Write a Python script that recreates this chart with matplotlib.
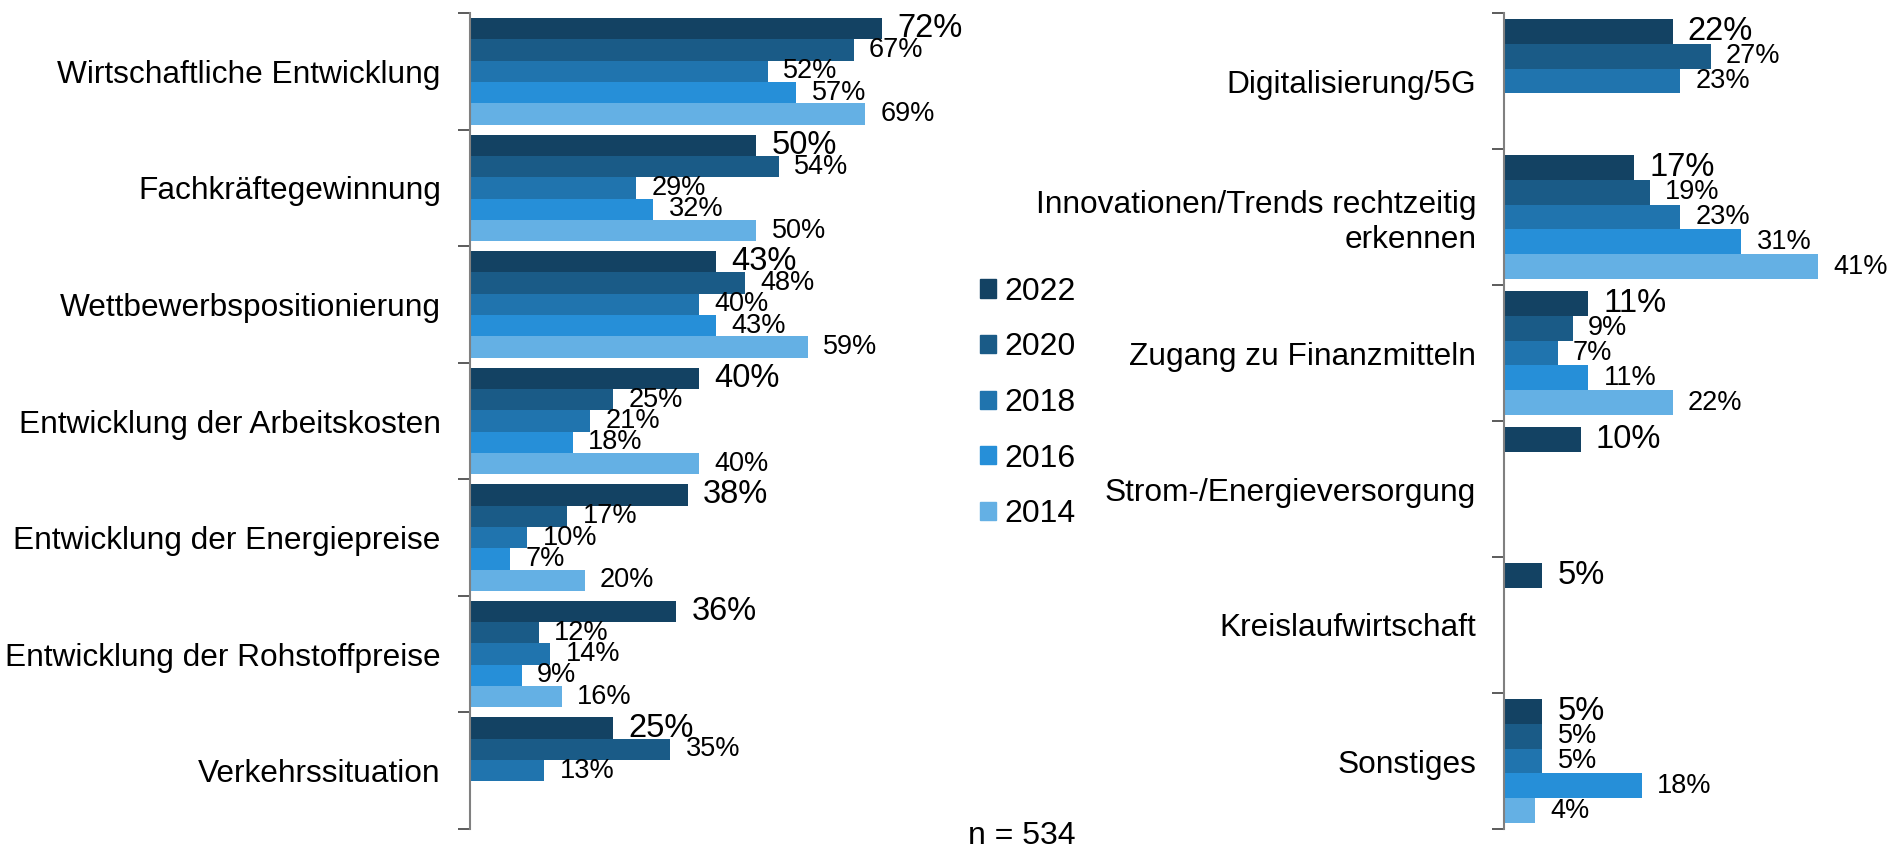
import matplotlib
matplotlib.use("Agg")
import matplotlib.pyplot as plt
from matplotlib.patches import Patch

plt.rcParams['font.family'] = ['Liberation Sans', 'DejaVu Sans']

years = ["2022", "2020", "2018", "2016", "2014"]
colors = ["#134263", "#1a5b87", "#2074ae", "#268fd8", "#64b0e4"]

# left panel
left_cats = ["Wirtschaftliche Entwicklung", "Fachkräftegewinnung",
             "Wettbewerbspositionierung", "Entwicklung der Arbeitskosten",
             "Entwicklung der Energiepreise", "Entwicklung der Rohstoffpreise",
             "Verkehrssituation"]
left_2022 = [72, 50, 43, 40, 38, 36, 25]
left_2020 = [67, 54, 48, 25, 17, 12, 35]
left_2018 = [52, 29, 40, 21, 10, 14, 13]
left_2016 = [57, 32, 43, 18, 7, 9, None]
left_2014 = [69, 50, 59, 40, 20, 16, None]

# right panel
right_cats = ["Digitalisierung/5G", "Innovationen/Trends rechtzeitig\nerkennen",
              "Zugang zu Finanzmitteln", "Strom-/Energieversorgung",
              "Kreislaufwirtschaft", "Sonstiges"]
right_2022 = [22, 17, 11, 10, 5, 5]
right_2020 = [27, 19, 9, None, None, 5]
right_2018 = [23, 23, 7, None, None, 5]
right_2016 = [None, 31, 11, None, None, 18]
right_2014 = [None, 41, 22, None, None, 4]

n_text = "n = 534"

W, H = 1894, 851
fig = plt.figure(figsize=(W / 100, H / 100), dpi=100)

ax1 = fig.add_axes([470 / W, 22 / H, 458 / W, 816 / H])
ax2 = fig.add_axes([1504 / W, 22 / H, 383 / W, 816 / H])

bh = 0.183


def draw(ax, cats, series, xmax, pad):
    n = len(cats)
    for j, vals in enumerate(series):
        for i, v in enumerate(vals):
            if v is None:
                continue
            y = i + (j - 2) * bh
            ax.barh(y, v, height=bh, color=colors[j], linewidth=0)
            fs = 23.5 if j == 0 else 19.5
            ax.annotate(f"{v}%", (v, y), xytext=(11, 0), textcoords="offset points",
                        va="center", ha="left", fontsize=fs, color="black")
    ax.set_xlim(0, xmax)
    ax.set_ylim(n - 0.5, -0.5)
    ax.set_yticks([i - 0.5 for i in range(n + 1)])
    ax.set_yticklabels([])
    ax.set_yticks(range(n), minor=True)
    ax.set_yticklabels(cats, minor=True, fontsize=22.8, ha="right", multialignment="right")
    ax.tick_params(axis="y", which="major", length=9, width=1.2, color="#404040")
    ax.tick_params(axis="y", which="minor", length=0, pad=pad)
    ax.set_xticks([])
    for s in ["top", "right", "bottom"]:
        ax.spines[s].set_visible(False)
    ax.spines["left"].set_color("#808080")
    ax.spines["left"].set_linewidth(1.5)


draw(ax1, left_cats, [left_2022, left_2020, left_2018, left_2016, left_2014], 80, 21)
draw(ax2, right_cats, [right_2022, right_2020, right_2018, right_2016, right_2014], 50, 20)

handles = [Patch(color=c) for c in colors]
fig.legend(handles, years, loc="center left", bbox_to_anchor=(980 / W, 1 - 403 / H),
           frameon=False, fontsize=23, handlelength=0.5, handleheight=0.5,
           handletextpad=0.25, labelspacing=0.8, borderpad=0, borderaxespad=0)

fig.text(1022 / W, 1 - 836 / H, n_text, ha="center", va="center", fontsize=23)

fig.savefig("out.png", dpi=100)
